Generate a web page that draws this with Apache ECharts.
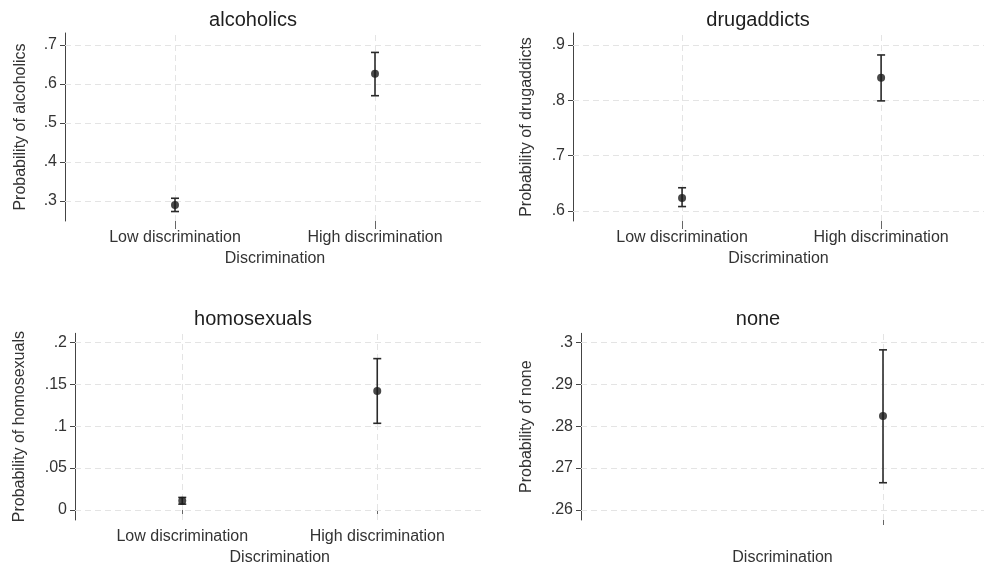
<!DOCTYPE html>
<html>
<head>
<meta charset="utf-8">
<script src="https://cdn.jsdelivr.net/npm/echarts@6/dist/echarts.min.js"></script>
<style>
html,body{margin:0;padding:0;background:#fff;}
#chart{width:984px;height:569px;}
</style>
</head>
<body>
<div id="chart"></div>
<script>
// ---- data ----
const categories = ['Low discrimination', 'High discrimination'];
const panelNames = ['alcoholics', 'drugaddicts', 'homosexuals', 'none'];

const alcEst = [0.290, 0.626];
const alcLo  = [0.273, 0.570];
const alcHi  = [0.307, 0.681];

const drugEst = [0.6235, 0.841];
const drugLo  = [0.608, 0.799];
const drugHi  = [0.642, 0.882];

const homoEst = [0.011, 0.142];
const homoLo  = [0.007, 0.1034];
const homoHi  = [0.015, 0.1805];

const noneEst = [null, 0.2824];
const noneLo  = [null, 0.2665];
const noneHi  = [null, 0.2982];

const alcTicks  = [0.3, 0.4, 0.5, 0.6, 0.7];
const drugTicks = [0.6, 0.7, 0.8, 0.9];
const homoTicks = [0, 0.05, 0.1, 0.15, 0.2];
const noneTicks = [0.26, 0.27, 0.28, 0.29, 0.3];

const alcRange  = [0.2487, 0.7308];
const drugRange = [0.5819, 0.9217];
const homoRange = [-0.0119, 0.2107];
const noneRange = [0.25761, 0.30215];

// x-axis extents (category 1 = Low, 2 = High); right panels are cut by the page edge
const xRanges = [[0.45, 2.55], [0.452, 2.517], [0.45, 2.55], [0.451, 2.518]];

// categories shown on the x axis of each panel (indices)
const shownCats = [[0, 1], [0, 1], [0, 1], [1]];
const labelledCats = [[0, 1], [0, 1], [0, 1], []];

// ---- layout ----
const FONT = 'Liberation Sans, Arial, Helvetica, sans-serif';
const grids = [
  {left: 65,  top: 33,    width: 420,   height: 188},
  {left: 573, top: 33,    width: 411,   height: 188},
  {left: 75,  top: 333.3, width: 409.5, height: 186.7},
  {left: 581, top: 333.3, width: 403,   height: 186.7}
];
const titlePos = [[248, 5], [753, 5], [248, 304], [753, 304]];
const yNameGap = [36, 38, 47, 46];

const ests = [alcEst, drugEst, homoEst, noneEst];
const los = [alcLo, drugLo, homoLo, noneLo];
const his = [alcHi, drugHi, homoHi, noneHi];
const ticks = [alcTicks, drugTicks, homoTicks, noneTicks];
const ranges = [alcRange, drugRange, homoRange, noneRange];

function fmt(v) {
  if (v === 0) return '0';
  let s = String(+v.toFixed(4));
  return s.replace(/^0\./, '.').replace(/^-0\./, '-.');
}

const option = {
  backgroundColor: '#ffffff',
  animation: false,
  title: panelNames.map((n, i) => ({
    text: n,
    left: titlePos[i][0],
    top: titlePos[i][1],
    textAlign: 'center',
    textStyle: {fontFamily: FONT, fontSize: 20, fontWeight: 'normal', color: '#1e1e1e'}
  })),
  grid: grids.map(g => Object.assign({containLabel: false}, g)),
  xAxis: grids.map((g, i) => ({
    type: 'value',
    gridIndex: i,
    min: xRanges[i][0],
    max: xRanges[i][1],
    name: 'Discrimination',
    nameLocation: 'middle',
    nameGap: 30,
    nameTextStyle: {fontFamily: FONT, fontSize: 16, color: '#333'},
    axisLine: {show: false},
    splitLine: {show: false},
    axisTick: {
      show: true, length: i === 3 ? 5 : 8,
      lineStyle: {color: '#666', width: 1},
      customValues: shownCats[i].map(c => c + 1)
    },
    axisLabel: {
      show: labelledCats[i].length > 0,
      margin: 9,
      fontFamily: FONT, fontSize: 16, color: '#333',
      customValues: labelledCats[i].map(c => c + 1),
      formatter: v => categories[Math.round(v) - 1] || ''
    }
  })),
  yAxis: grids.map((g, i) => ({
    type: 'value',
    gridIndex: i,
    min: ranges[i][0],
    max: ranges[i][1],
    name: 'Probability of ' + panelNames[i],
    nameLocation: 'middle',
    nameGap: yNameGap[i],
    nameTextStyle: {fontFamily: FONT, fontSize: 16, color: '#333'},
    axisLine: {show: true, lineStyle: {color: '#444', width: 1}},
    splitLine: {show: false},
    axisTick: {show: true, length: 5, lineStyle: {color: '#444', width: 1}, customValues: ticks[i]},
    axisLabel: {
      margin: 8, fontFamily: FONT, fontSize: 16, color: '#333',
      customValues: ticks[i],
      formatter: v => fmt(v)
    }
  })),
  series: []
};

for (let i = 0; i < 4; i++) {
  const pts = [];
  const bars = [];
  for (let c = 0; c < categories.length; c++) {
    if (ests[i][c] == null) continue;
    pts.push([c + 1, ests[i][c]]);
    bars.push([c + 1, los[i][c], his[i][c]]);
  }
  const gridLines = shownCats[i].map(c => ({xAxis: c + 1}))
    .concat(ticks[i].map(t => ({yAxis: t})));
  option.series.push({
    type: 'custom',
    xAxisIndex: i,
    yAxisIndex: i,
    z: 2,
    data: bars,
    renderItem: function (params, api) {
      const x = api.value(0);
      const top = api.coord([x, api.value(2)]);
      const bot = api.coord([x, api.value(1)]);
      const hw = 4;
      const st = {stroke: '#2a2a2a', lineWidth: 1.6};
      return {
        type: 'group',
        children: [
          {type: 'line', shape: {x1: top[0], y1: top[1], x2: bot[0], y2: bot[1]}, style: st},
          {type: 'line', shape: {x1: top[0] - hw, y1: top[1], x2: top[0] + hw, y2: top[1]}, style: st},
          {type: 'line', shape: {x1: bot[0] - hw, y1: bot[1], x2: bot[0] + hw, y2: bot[1]}, style: st}
        ]
      };
    },
    markLine: {
      silent: true,
      symbol: 'none',
      z: 1,
      label: {show: false},
      lineStyle: {type: [6, 4], color: '#e4e4e4', width: 1},
      data: gridLines
    }
  });
  option.series.push({
    type: 'scatter',
    xAxisIndex: i,
    yAxisIndex: i,
    z: 3,
    symbol: 'circle',
    symbolSize: 8,
    itemStyle: {color: '#1a1a1a'},
    data: pts
  });
}

const chart = echarts.init(document.getElementById('chart'), null, {renderer: 'canvas'});
chart.setOption(option);
</script>
</body>
</html>
